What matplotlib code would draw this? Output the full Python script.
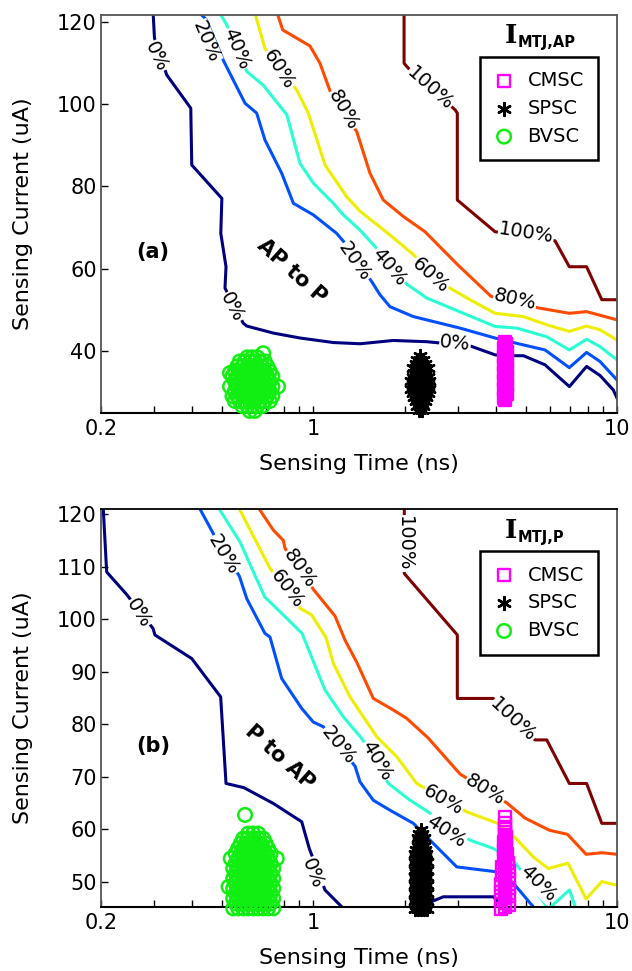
import numpy as np
import matplotlib
matplotlib.use('Agg')
import matplotlib.pyplot as plt

plt.rcParams['font.family'] = 'DejaVu Sans'

# contour levels and colours (jet-like)
levels = ['0%', '20%', '40%', '60%', '80%', '100%']
level_colors = ['#00007f', '#0050ff', '#2affd4', '#eeee00', '#ff4a00', '#7f0000']

# ---- panel (a): AP to P, contour lines as (time ns, current uA) ----
a_0 = [(0.297, 122), (0.300, 116.0), (0.329, 107.1), (0.395, 99.0), (0.398, 85.2), (0.50, 77.1),
       (0.496, 68.6), (0.516, 60.5), (0.512, 55.3), (0.588, 46.8), (0.604, 46.1), (0.738, 44.4),
       (0.904, 43.2), (1.164, 42.1), (1.425, 41.8), (1.834, 42.6), (2.362, 42.3), (3.28, 41.3),
       (3.97, 39.1), (4.22, 38.9), (4.92, 38.9), (5.79, 36.7), (6.97, 31.4), (7.94, 36.3),
       (8.79, 34.1), (9.72, 30.6), (10.0, 28.6)]
a_20 = [(0.424, 122), (0.443, 120.6), (0.508, 110.3), (0.596, 100.2), (0.651, 97.8), (0.693, 91.3),
        (0.787, 83.2), (0.86, 75.9), (1.0, 73.1), (1.194, 68.6), (1.272, 66.2), (1.557, 56.9),
        (1.658, 53.7), (1.789, 50.8), (2.135, 48.4), (3.042, 45.6), (3.966, 43.2), (4.675, 41.9),
        (5.794, 40.3), (6.966, 36.0), (7.94, 39.7), (8.79, 37.5), (10.0, 33.0)]
a_40 = [(0.493, 122), (0.519, 119.2), (0.604, 107.9), (0.684, 104.6), (0.818, 97.4), (0.904, 85.6),
        (1.0, 80.8), (1.164, 75.9), (1.255, 73.1), (1.425, 69.4), (1.597, 65.4), (2.03, 56.3),
        (2.362, 52.9), (3.119, 49.2), (3.966, 46.0), (4.675, 45.6), (5.87, 43.5), (6.966, 40.3),
        (7.94, 42.9), (8.79, 41.1), (10.0, 37.9)]
a_60 = [(0.643, 122), (0.693, 113.5), (0.882, 103.4), (0.963, 97.8), (1.093, 85.2), (1.288, 77.5),
        (1.425, 74.0), (1.789, 68.2), (2.109, 63.8), (2.82, 55.3), (3.28, 52.5), (3.966, 49.2),
        (4.915, 48.4), (5.87, 46.4), (6.966, 44.8), (7.94, 46.1), (8.79, 45.2), (10.0, 42.7)]
a_80 = [(0.761, 122), (0.793, 118.0), (0.975, 114.1), (1.052, 109.9), (1.135, 103.2), (1.39, 93.3),
        (1.537, 83.2), (1.70, 76.7), (1.979, 72.7), (2.332, 69.0), (2.996, 60.9), (3.848, 53.3),
        (5.51, 50.5), (6.966, 49.2), (7.94, 49.6), (10.0, 47.6)]
a_100 = [(1.99, 122), (1.99, 109.9), (2.055, 108.7), (2.93, 98.6), (2.98, 97.8), (2.98, 76.7),
         (3.966, 69.0), (6.25, 66.8), (6.966, 60.5), (7.94, 60.5), (8.91, 52.5), (10.0, 52.5)]

# sample clouds (a), rows of (current uA, [times ns])
cmsc_a_cur = [28.2, 28.7, 29.2, 29.7, 30.2, 30.7, 31.2, 31.7, 32.2, 32.7, 33.2, 33.7, 34.2, 34.7,
              35.2, 35.7, 36.2, 36.7, 37.2, 37.7, 38.2, 38.7, 39.2, 39.7, 40.2, 40.7, 41.2, 41.7, 42.2]
cmsc_a_time = [4.28, 4.23, 4.28, 4.33, 4.28, 4.23, 4.28, 4.33, 4.28, 4.23, 4.28, 4.33, 4.28, 4.23,
               4.28, 4.33, 4.28, 4.23, 4.28, 4.33, 4.28, 4.23, 4.28, 4.33, 4.28, 4.24, 4.28, 4.32, 4.28]
spsc_a = [(25.8, [2.221, 2.272]),
          (26.8, [2.196, 2.246, 2.297]),
          (27.8, [2.171, 2.221, 2.272, 2.324]),
          (28.8, [2.147, 2.196, 2.246, 2.297, 2.35]),
          (29.8, [2.122, 2.171, 2.221, 2.272, 2.324, 2.377]),
          (30.8, [2.099, 2.147, 2.196, 2.246, 2.297, 2.35, 2.403]),
          (31.8, [2.122, 2.171, 2.221, 2.272, 2.324, 2.377]),
          (32.8, [2.099, 2.147, 2.196, 2.246, 2.297, 2.35, 2.403]),
          (33.8, [2.122, 2.171, 2.221, 2.272, 2.324, 2.377]),
          (34.8, [2.147, 2.196, 2.246, 2.297, 2.35]),
          (35.8, [2.122, 2.171, 2.221, 2.272, 2.324, 2.377]),
          (36.8, [2.171, 2.221, 2.272, 2.324]),
          (37.8, [2.196, 2.246, 2.297]),
          (38.8, [2.246])]
bvsc_a = [(25.5, [0.618, 0.642]),
          (26.7, [0.584, 0.607, 0.63, 0.654, 0.68]),
          (27.9, [0.552, 0.573, 0.595, 0.618, 0.642, 0.667, 0.6925, 0.719]),
          (29.1, [0.542, 0.5625, 0.584, 0.607, 0.63, 0.654, 0.68, 0.7055, 0.733]),
          (30.3, [0.552, 0.573, 0.595, 0.618, 0.642, 0.667, 0.6925, 0.719]),
          (31.4, [0.532, 0.5625, 0.584, 0.607, 0.63, 0.654, 0.68, 0.7055, 0.733, 0.765]),
          (32.7, [0.552, 0.573, 0.595, 0.618, 0.642, 0.667, 0.6925, 0.719]),
          (33.9, [0.542, 0.5625, 0.584, 0.607, 0.63, 0.654, 0.68, 0.7055, 0.733]),
          (34.7, [0.532]),
          (35.1, [0.552, 0.573, 0.595, 0.618, 0.642, 0.667, 0.6925, 0.719]),
          (36.3, [0.5625, 0.584, 0.607, 0.63, 0.654, 0.68, 0.7055]),
          (37.5, [0.573, 0.595, 0.618, 0.642, 0.667, 0.6925]),
          (38.5, [0.607, 0.63, 0.654]),
          (39.5, [0.684])]

# ---- panel (b): P to AP ----
b_0 = [(0.2035, 121), (0.2088, 109.0), (0.243, 104.7), (0.297, 98.2), (0.301, 97.0), (0.398, 92.5),
       (0.4955, 85.2), (0.516, 68.7), (0.591, 67.9), (0.738, 64.9), (0.916, 61.4), (0.970, 56.3),
       (1.093, 48.4), (1.24, 45.2), (1.28, 44.5)]
b_0_low = [(2.30, 44.8), (2.454, 46.2), (2.68, 47.1), (3.915, 47.1), (4.2, 45.5), (4.3, 44.8)]
b_20 = [(0.4236, 121), (0.4747, 115.7), (0.571, 108.2), (0.604, 103.9), (0.693, 97.3), (0.72, 96.6),
        (0.787, 88.7), (0.916, 83.0), (1.0, 80.4), (1.079, 79.5), (1.372, 72.0), (1.425, 69.0),
        (1.576, 65.5), (1.789, 63.6), (2.135, 61.1), (2.423, 57.9), (2.966, 52.8), (3.966, 51.9),
        (4.556, 49.7), (5.30, 45.2), (5.4, 44.5)]
b_40 = [(0.490, 121), (0.574, 114.7), (0.635, 109.0), (0.693, 104.2), (0.797, 100.8), (0.918, 97.3),
        (0.99, 92.6), (1.093, 86.5), (1.255, 81.4), (1.443, 77.3), (1.766, 68.7), (2.082, 65.5),
        (2.386, 63.3), (3.28, 57.9), (3.915, 56.3), (4.556, 54.1), (5.95, 44.8), (6.966, 48.4),
        (7.33, 44.8)]
b_60 = [(0.571, 121), (0.72, 109.7), (0.904, 102.1), (0.988, 100.8), (1.101, 96.5), (1.164, 91.6),
        (1.321, 85.2), (1.618, 77.6), (1.883, 73.8), (2.19, 68.7), (3.20, 63.3), (4.043, 61.1),
        (4.615, 58.4), (5.30, 54.7), (5.94, 52.5), (6.90, 53.5), (7.91, 46.7), (8.91, 50.0),
        (10.0, 49.3)]
b_80 = [(0.664, 121), (0.738, 117.0), (0.797, 115.0), (0.807, 113.5), (1.0, 105.7), (1.179, 100.6),
        (1.272, 96.0), (1.39, 91.8), (1.576, 84.9), (1.834, 82.7), (2.03, 81.1), (2.386, 77.4),
        (3.042, 70.5), (4.335, 65.0), (4.98, 62.1), (5.98, 59.8), (6.87, 59.0), (7.91, 55.2),
        (8.91, 55.5), (10.0, 55.2)]
b_100 = [(1.994, 121), (1.994, 108.7), (2.98, 97.0), (2.98, 84.9), (3.915, 84.9), (5.37, 77.0),
         (5.87, 77.0), (6.966, 68.7), (7.94, 68.7), (8.91, 61.1), (10.0, 61.1)]

cmsc_b_cur = [44.8, 45.2, 45.6, 46.0, 46.4, 46.8, 47.2, 47.6, 48.0, 48.4, 48.8, 49.2, 49.6, 50.0,
              50.4, 50.8, 51.2, 51.6, 52.0, 52.4, 52.8, 53.2, 53.6, 54.0, 54.4, 54.8, 55.2, 55.6,
              56.0, 56.4, 56.8, 57.2, 57.6, 58.0, 58.4, 58.8, 59.5, 60.4, 61.1, 62.3]
cmsc_b_time = [4.16, 4.28, 4.42, 4.28, 4.16, 4.28, 4.42, 4.28, 4.16, 4.28, 4.42, 4.28, 4.16, 4.28,
               4.42, 4.28, 4.17, 4.28, 4.40, 4.28, 4.18, 4.28, 4.38, 4.28, 4.23, 4.28, 4.33, 4.28,
               4.24, 4.28, 4.32, 4.28, 4.24, 4.28, 4.32, 4.28, 4.28, 4.28, 4.28, 4.28]
spsc_b = [(44.8, [2.16, 2.209, 2.26, 2.312, 2.365]),
          (45.55, [2.184, 2.235, 2.286, 2.338]),
          (46.3, [2.16, 2.209, 2.26, 2.312, 2.365]),
          (47.05, [2.184, 2.235, 2.286, 2.338]),
          (47.8, [2.16, 2.209, 2.26, 2.312, 2.365]),
          (48.55, [2.184, 2.235, 2.286, 2.338]),
          (49.3, [2.16, 2.209, 2.26, 2.312, 2.365]),
          (50.05, [2.184, 2.235, 2.286, 2.338]),
          (50.8, [2.16, 2.209, 2.26, 2.312, 2.365]),
          (51.55, [2.184, 2.235, 2.286, 2.338]),
          (52.3, [2.16, 2.209, 2.26, 2.312, 2.365]),
          (53.05, [2.184, 2.235, 2.286, 2.338]),
          (53.8, [2.16, 2.209, 2.26, 2.312, 2.365]),
          (54.55, [2.184, 2.235, 2.286, 2.338]),
          (55.3, [2.17, 2.209, 2.26, 2.312, 2.355]),
          (56.05, [2.184, 2.235, 2.286, 2.338]),
          (56.8, [2.209, 2.26, 2.312]),
          (57.55, [2.235, 2.286]),
          (58.3, [2.209, 2.26, 2.312]),
          (59.05, [2.235, 2.286]),
          (59.9, [2.26])]
bvsc_b = [(44.9, [0.545, 0.566, 0.588, 0.6104, 0.634, 0.6585, 0.684, 0.710, 0.738]),
          (45.85, [0.555, 0.577, 0.599, 0.622, 0.646, 0.671, 0.697, 0.724]),
          (46.8, [0.545, 0.566, 0.588, 0.6104, 0.634, 0.6585, 0.684, 0.710, 0.738]),
          (47.75, [0.555, 0.577, 0.599, 0.622, 0.646, 0.671, 0.697, 0.724]),
          (48.7, [0.545, 0.566, 0.588, 0.6104, 0.634, 0.6585, 0.684, 0.710, 0.738]),
          (49.0, [0.526]),
          (49.65, [0.555, 0.577, 0.599, 0.622, 0.646, 0.671, 0.697, 0.724]),
          (50.6, [0.545, 0.566, 0.588, 0.6104, 0.634, 0.6585, 0.684, 0.710, 0.738]),
          (51.55, [0.555, 0.577, 0.599, 0.622, 0.646, 0.671, 0.697, 0.724]),
          (52.5, [0.545, 0.566, 0.588, 0.6104, 0.634, 0.6585, 0.684, 0.710, 0.738]),
          (53.45, [0.555, 0.577, 0.599, 0.622, 0.646, 0.671, 0.697, 0.724]),
          (54.4, [0.535, 0.566, 0.588, 0.6104, 0.634, 0.6585, 0.684, 0.710, 0.758]),
          (55.35, [0.555, 0.577, 0.599, 0.622, 0.646, 0.671, 0.697, 0.724]),
          (56.3, [0.566, 0.588, 0.6104, 0.634, 0.6585, 0.684, 0.710]),
          (57.25, [0.577, 0.599, 0.622, 0.646, 0.671, 0.697]),
          (58.2, [0.588, 0.6104, 0.634, 0.6585, 0.684]),
          (59.15, [0.6104, 0.634, 0.6585]),
          (62.7, [0.596])]

# contour label placement: (level index, time, current, rotation)
a_labels = [(0, 0.305, 111.5, -65), (0, 0.539, 50.6, -62), (0, 2.93, 41.9, -6),
            (1, 0.443, 115.1, -67), (1, 1.372, 61.7, -55),
            (2, 0.5595, 113.5, -67), (2, 1.78, 60.5, -50),
            (3, 0.767, 108.3, -58), (3, 2.423, 58.5, -42),
            (4, 1.255, 98.6, -60), (4, 4.615, 52.5, -13),
            (5, 2.423, 103.8, -42), (5, 5.02, 68.6, -9)]
b_labels = [(0, 0.265, 101.1, -58), (0, 0.996, 51.6, -69),
            (1, 0.5056, 112.2, -59), (1, 1.209, 76.0, -51),
            (2, 1.618, 73.1, -59), (2, 2.735, 59.6, -34), (2, 5.51, 49.7, -45),
            (3, 0.818, 105.8, -53), (3, 2.68, 65.5, -30),
            (4, 0.904, 109.7, -55), (4, 3.677, 67.4, -32),
            (5, 2.0, 114.4, -90), (5, 4.556, 80.8, -43)]


def unrow(rows):
    t = [x for cur, ts in rows for x in ts]
    c = [cur for cur, ts in rows for x in ts]
    return t, c


fig = plt.figure(figsize=(6.32, 9.71), dpi=100)
ax_a = fig.add_axes([0.1598, 0.5747, 0.8165, 0.4102])
ax_b = fig.add_axes([0.1598, 0.0656, 0.8165, 0.4102])

panels = [
    (ax_a, [a_0, a_20, a_40, a_60, a_80, a_100], [], a_labels,
     (cmsc_a_time, cmsc_a_cur), unrow(spsc_a), unrow(bvsc_a),
     (25, 121.7), [40, 60, 80, 100, 120], '(a)', 'AP to P', (0.3696, 0.355), 'MTJ,AP', '#555555'),
    (ax_b, [b_0, b_20, b_40, b_60, b_80, b_100], [b_0_low], b_labels,
     (cmsc_b_time, cmsc_b_cur), unrow(spsc_b), unrow(bvsc_b),
     (45.1, 121), [50, 60, 70, 80, 90, 100, 110, 120], '(b)', 'P to AP', (0.347, 0.378), 'MTJ,P', 'black'),
]

for (ax, lines, extra, labels, cmsc, spsc, bvsc, ylim, yticks, tag, direction, dpos, sub, topcol) in panels:
    for i, line in enumerate(lines):
        t, cur = np.array(line).T
        ax.plot(t, cur, color=level_colors[i], lw=2.2, zorder=2)
    for line in extra:
        t, cur = np.array(line).T
        ax.plot(t, cur, color=level_colors[0], lw=2.2, zorder=2)
    for lvl, t, cur, rot in labels:
        ax.text(t, cur, levels[lvl], fontsize=14, rotation=rot, rotation_mode='anchor',
                ha='center', va='center', zorder=3,
                bbox=dict(facecolor='white', edgecolor='none', pad=0.3))

    h1 = ax.scatter(cmsc[0], cmsc[1], marker='s', s=75, facecolors='none', edgecolors='#ff00ff',
                    linewidths=1.7, clip_on=False, zorder=4, label='CMSC')
    h2 = ax.scatter(spsc[0], spsc[1], marker=(6, 2, 0), s=85, color='black', linewidths=1.8,
                    clip_on=False, zorder=4, label='SPSC')
    h3 = ax.scatter(bvsc[0], bvsc[1], marker='o', s=95, facecolors='none', edgecolors='#11ee11',
                    linewidths=1.8, clip_on=False, zorder=4, label='BVSC')

    ax.set_xscale('log')
    ax.set_xlim(0.2, 10)
    ax.set_ylim(*ylim)
    ax.set_xticks([0.2, 1, 10])
    ax.set_xticklabels(['0.2', '1', '10'])
    ax.set_xticks([0.3, 0.4, 0.5, 0.6, 0.7, 0.8, 0.9, 2, 3, 4, 5, 6, 7, 8, 9], minor=True)
    ax.xaxis.set_minor_formatter(plt.NullFormatter())
    ax.set_yticks(yticks)
    ax.tick_params(axis='both', which='both', direction='in', top=False, right=False,
                   labelsize=15, length=5, width=1)
    ax.tick_params(axis='x', pad=4)
    ax.tick_params(axis='y', pad=3)
    ax.set_xlabel('Sensing Time (ns)', fontsize=16, labelpad=11)
    ax.set_ylabel('Sensing Current (uA)', fontsize=16, labelpad=17)

    for side in ['left', 'right']:
        ax.spines[side].set_color('#555555')
        ax.spines[side].set_linewidth(1.3)
    ax.spines['top'].set_color(topcol)
    ax.spines['top'].set_linewidth(1.3)
    ax.spines['bottom'].set_linewidth(1.5)

    ax.text(0.101, 0.404, tag, transform=ax.transAxes, fontsize=15, fontweight='bold',
            ha='center', va='center')
    ax.text(dpos[0], dpos[1], direction, transform=ax.transAxes, fontsize=15, fontweight='bold',
            ha='center', va='center', rotation=-42, rotation_mode='anchor')

    ax.text(0.806, 0.928, 'I', transform=ax.transAxes, fontsize=19, fontweight='bold',
            family='DejaVu Serif', ha='right', va='baseline')
    ax.text(0.808, 0.918, sub, transform=ax.transAxes, fontsize=10.5, fontweight='bold',
            ha='left', va='baseline')

    leg = ax.legend(handles=[h1, h2, h3], loc='upper right', bbox_to_anchor=(0.9638, 0.8946),
                    fontsize=14, frameon=True, fancybox=False, edgecolor='black', framealpha=1,
                    handlelength=1.0, handletextpad=0.7, labelspacing=0.45, borderpad=0.75,
                    borderaxespad=0, scatterpoints=1)
    leg.get_frame().set_linewidth(1.8)
    leg.set_zorder(5)

fig.savefig('out.png', dpi=100)
